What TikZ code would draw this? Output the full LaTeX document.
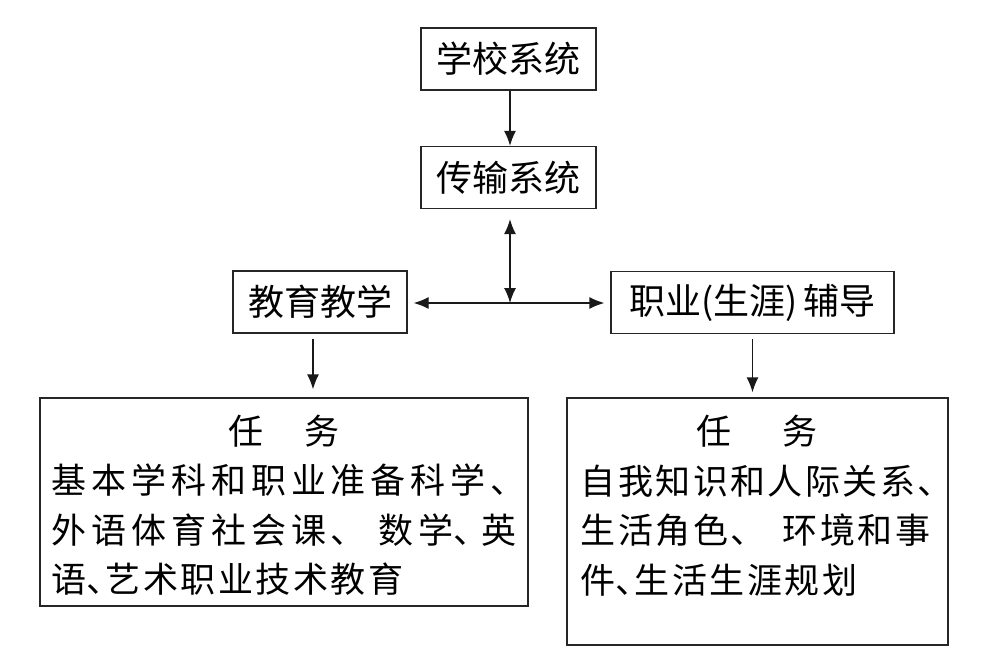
\documentclass[tikz,border=0pt]{standalone}
\usepackage{fontspec}
\newfontfamily\cjk{Noto Sans CJK SC}
\newfontfamily\cjkwide[LetterSpace=14]{Noto Sans CJK SC}
\newfontfamily\cjkmid[LetterSpace=7]{Noto Sans CJK SC}
\newcommand\halfDun{\makebox[0.55em][l]{、}}
\usetikzlibrary{arrows.meta,positioning}
\tikzset{
	sysBox/.style={
		draw=black!85,
		line width=1.3pt,
		inner sep=0pt,
		minimum height=62pt,
		font=\cjk\fontsize{36}{40}\selectfont
	},
	taskBox/.style={
		draw=black!85,
		line width=1.3pt,
		inner sep=0pt
	},
	taskLine/.style={
		anchor=west,
		inner sep=0pt,
		font=\cjkmid\fontsize{35}{40}\selectfont
	},
	taskLineWide/.style={
		taskLine,
		font=\cjkwide\fontsize{35}{40}\selectfont
	},
	taskTitle/.style={
		inner sep=0pt,
		font=\cjk\fontsize{35}{40}\selectfont
	},
}
\begin{document}
\begin{tikzpicture}[x=1pt, y=-1pt, line width=1.3pt
    ,   arr/.style={-{Latex[length=15pt, width=12pt]}, draw=black!90}
    ,   dblArr/.style={{Latex[length=15pt, width=12pt]}-{Latex[length=15pt, width=12pt]}, draw=black!90}]
\useasboundingbox (0,0) rectangle (985,661);

% top chain
\node[sysBox, minimum width=175pt] (school) at (508.5,59){学校系统};
\node[sysBox, minimum width=175pt] (trans) at (508.5,177.5){传输系统};
\node[sysBox, minimum width=174pt] (teach) at (320,302){教育教学};
\node[sysBox, minimum width=283pt] (guide) at (752.5,302.5){职业(生涯)\,辅导};
\coordinate (hub) at (510,303);

% task boxes
\node[taskBox, minimum width=488pt, minimum height=208pt] (taskL) at (284,502){};
\node[taskBox, minimum width=381pt, minimum height=247pt] (taskR) at (757.5,521.5){};

\node[taskTitle] (titleL) at (284,431){任\hspace{1.15em}务};
\node[taskLineWide] (lineL1) at (51,480){基本学科和职业准备科学、};
\node[taskLineWide] (lineL2) at (51,530){外语体育社会课、\hspace{0.35em}数学\makebox[0.8em][l]{、}英};
\node[taskLine] (lineL3) at (51,579){语\halfDun 艺术职业技术教育};

\node[taskTitle] (titleR) at (757,431){任\hspace{1.45em}务};
\node[taskLine] (lineR1) at (580,481){自我知识和人际关系、};
\node[taskLine] (lineR2) at (580,530){生活角色、\hspace{0.5em}环境和事};
\node[taskLine] (lineR3) at (580,580){件\halfDun 生活生涯规划};

% arrows
\draw[arr] (school.south -| hub) -- (trans.north -| hub);
\draw[dblArr, shorten <=10pt] (trans.south -| hub) -- (hub);
\draw[dblArr, shorten <=6pt, shorten >=6pt] (teach.east |- hub) -- (guide.west |- hub);
\draw[arr, shorten <=5pt, shorten >=8pt] ([xshift=-7pt]teach.south) -- ([xshift=-7pt]teach.south |- taskL.north);
\draw[arr, shorten <=5pt, shorten >=5pt] (guide.south) -- (guide.south |- taskR.north);

\end{tikzpicture}
\end{document}
